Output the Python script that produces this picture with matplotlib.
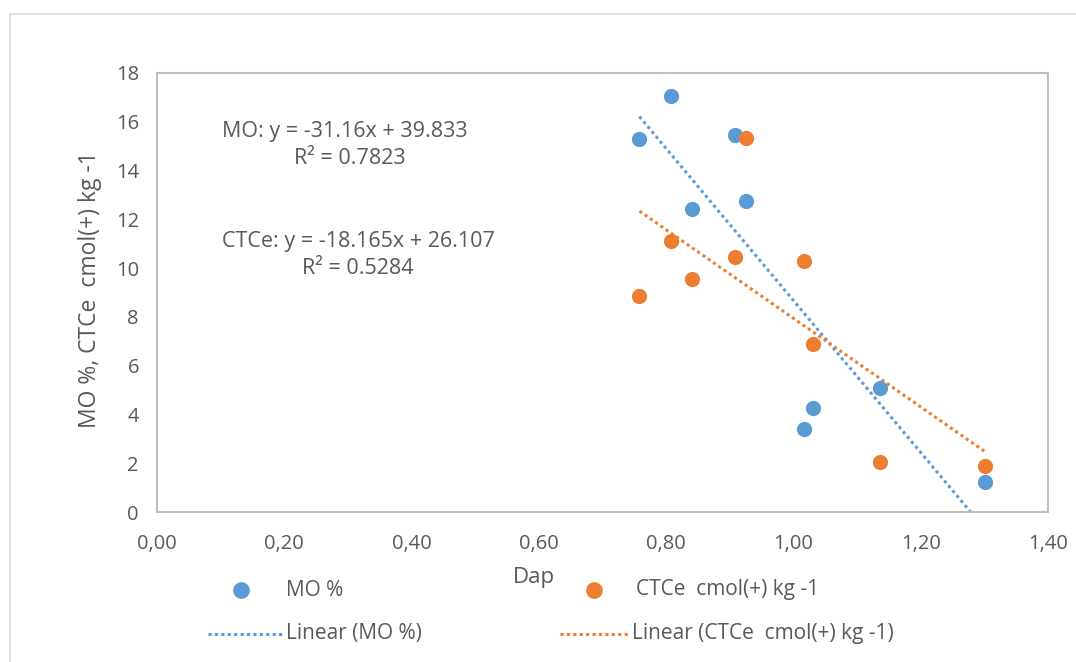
import matplotlib
matplotlib.use("Agg")
import matplotlib.pyplot as plt
from matplotlib.lines import Line2D
from matplotlib.patches import Rectangle
import numpy as np

plt.rcParams['font.family'] = ['Open Sans', 'DejaVu Sans']

# Data
dap_mo = [0.807, 0.758, 0.908, 0.925, 0.840, 1.136, 1.031, 1.017, 1.301]
mo = [17.06, 15.28, 15.46, 12.75, 12.41, 5.10, 4.28, 3.40, 1.22]
dap_ctce = [0.925, 0.807, 0.908, 1.017, 0.840, 0.758, 1.031, 1.136, 1.301]
ctce = [15.32, 11.12, 10.47, 10.30, 9.54, 8.84, 6.89, 2.06, 1.90]

mo_slope, mo_intercept = -31.16, 39.833
ctce_slope, ctce_intercept = -18.165, 26.107

x_ticks = [0.0, 0.2, 0.4, 0.6, 0.8, 1.0, 1.2, 1.4]
x_tick_labels = ["0,00", "0,20", "0,40", "0,60", "0,80", "1,00", "1,20", "1,40"]
y_ticks = [0, 2, 4, 6, 8, 10, 12, 14, 16, 18]

BLUE = "#5B9BD5"
ORANGE = "#ED7D31"
TXT = "#595959"
GRID = "#BFBFBF"

W, H = 1076, 662
fig = plt.figure(figsize=(W / 100, H / 100), dpi=100)

# outer chart border
fig.add_artist(Rectangle((10 / W, -0.1), 1.2, 1 - 14 / H + 0.1, transform=fig.transFigure,
                         fill=False, edgecolor="#D9D9D9", lw=1.2))

ax = fig.add_axes([157 / W, 1 - 512 / H, (1048 - 157) / W, (512 - 73) / H])
ax.set_xlim(0, 1.4)
ax.set_ylim(0, 18)
ax.set_xticks(x_ticks)
ax.set_xticklabels(x_tick_labels)
ax.set_yticks(y_ticks)
for s in ax.spines.values():
    s.set_color(GRID)
    s.set_linewidth(1.5)
ax.tick_params(length=0, labelsize=14.5, colors=TXT)
ax.tick_params(axis="y", pad=13)
ax.tick_params(axis="x", pad=16)

ax.scatter(dap_mo, mo, s=120, color=BLUE, zorder=3, linewidths=0)
ax.scatter(dap_ctce, ctce, s=120, color=ORANGE, zorder=3, linewidths=0)

xm = np.linspace(min(dap_mo), max(dap_mo), 200)
ax.plot(xm, mo_slope * xm + mo_intercept, color=BLUE, lw=2.2, ls=(0, (1, 1.1)), zorder=2)
xc = np.linspace(min(dap_ctce), max(dap_ctce), 200)
ax.plot(xc, ctce_slope * xc + ctce_intercept, color=ORANGE, lw=2.2, ls=(0, (1, 1.1)), zorder=2)

fig.text(90 / W, 1 - 290 / H, "MO %, CTCe  cmol(+) kg -1", fontsize=16.5, color=TXT,
         va="center", ha="center", rotation=90)

fs = 15.5
fig.text(222 / W, 1 - 131 / H, "MO: y = -31.16x + 39.833", fontsize=fs, color=TXT, va="center")
fig.text(350 / W, 1 - 159 / H, "R² = 0.7823", fontsize=fs, color=TXT, va="center", ha="center")
fig.text(222 / W, 1 - 241 / H, "CTCe: y = -18.165x + 26.107", fontsize=fs, color=TXT, va="center")
fig.text(358 / W, 1 - 269 / H, "R² = 0.5284", fontsize=fs, color=TXT, va="center", ha="center")

fig.text(534 / W, 1 - 578 / H, "Dap", fontsize=16, color=TXT, va="center", ha="center")

lfs = 15
# legend
fig.add_artist(Line2D([241 / W], [1 - 590 / H], marker="o", ms=11, color=BLUE, mec=BLUE,
                      transform=fig.transFigure, ls="none"))
fig.text(286 / W, 1 - 590 / H, "MO %", fontsize=lfs, color=TXT, va="center")
fig.add_artist(Line2D([594 / W], [1 - 590 / H], marker="o", ms=11, color=ORANGE, mec=ORANGE,
                      transform=fig.transFigure, ls="none"))
fig.text(636 / W, 1 - 590 / H, "CTCe  cmol(+) kg -1", fontsize=lfs, color=TXT, va="center")
fig.add_artist(Line2D([208 / W, 283 / W], [1 - 634 / H] * 2, color=BLUE, lw=2.2, ls=(0, (1, 1.1)),
                      transform=fig.transFigure))
fig.text(286 / W, 1 - 634 / H, "Linear (MO %)", fontsize=lfs, color=TXT, va="center")
fig.add_artist(Line2D([560 / W, 628 / W], [1 - 634 / H] * 2, color=ORANGE, lw=2.2, ls=(0, (1, 1.1)),
                      transform=fig.transFigure))
fig.text(632 / W, 1 - 634 / H, "Linear (CTCe  cmol(+) kg -1)", fontsize=lfs, color=TXT, va="center")

fig.savefig("out.png", dpi=100)
